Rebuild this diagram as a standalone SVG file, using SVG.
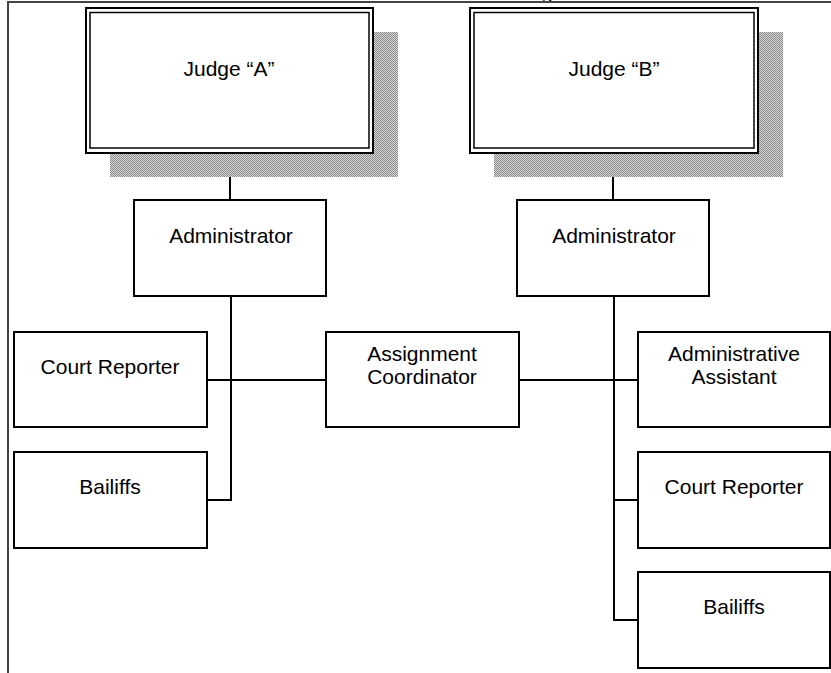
<svg xmlns="http://www.w3.org/2000/svg" width="831" height="673" viewBox="0 0 831 673">
<style>
.box{fill:#fff;stroke:#000;stroke-width:2}
.inner{fill:none;stroke:#000;stroke-width:1.5}
.shadow{fill:url(#dots);stroke:none}
.t{font-family:"Liberation Sans",Arial,sans-serif;font-size:21px;fill:#000;text-anchor:middle}
.c{fill:none;stroke:#000;stroke-width:2}
.frame{fill:none;stroke:#444;stroke-width:2}
</style>
<defs>
<pattern id="dots" width="2" height="2" patternUnits="userSpaceOnUse">
<rect width="2" height="2" fill="#d8d8d8"/>
<rect width="1" height="1" fill="#8a8a8a"/>
<rect x="1" y="1" width="1" height="1" fill="#8a8a8a"/>
</pattern>
</defs>
<rect width="831" height="673" fill="#fff"/>
<text x="547" y="-1" style="font-family:'Liberation Sans',Arial,sans-serif;font-size:21px;text-anchor:middle">g</text>
<path class="frame" d="M8,673 V2 H831"/>
<g id="connectors">
<line class="c" x1="230" y1="153" x2="230" y2="200"/>
<line class="c" x1="613" y1="153" x2="613" y2="200"/>
<path class="c" d="M231,296 V500 H207"/>
<line class="c" x1="207" y1="380" x2="326" y2="380"/>
<line class="c" x1="519" y1="380" x2="638" y2="380"/>
<path class="c" d="M614,296 V620 H638"/>
<line class="c" x1="614" y1="500" x2="638" y2="500"/>
</g>
<g id="judgeA">
<rect class="shadow" x="110" y="32" width="288" height="145"/>
<rect class="box" x="86" y="8" width="287" height="145"/>
<rect class="inner" x="90" y="12.5" width="279" height="135.5"/>
<text class="t" x="229" y="76">Judge “A”</text>
</g>
<g id="judgeB">
<rect class="shadow" x="494" y="32" width="289" height="145"/>
<rect class="box" x="470" y="8" width="288" height="145"/>
<rect class="inner" x="474" y="12.5" width="280" height="135.5"/>
<text class="t" x="614" y="76">Judge “B”</text>
</g>
<g id="adminA">
<rect class="box" x="134" y="200" width="192" height="96"/>
<text class="t" x="231" y="243">Administrator</text>
</g>
<g id="adminB">
<rect class="box" x="517" y="200" width="192" height="96"/>
<text class="t" x="614" y="243">Administrator</text>
</g>
<g id="courtReporterA">
<rect class="box" x="14" y="332" width="193" height="95"/>
<text class="t" x="110" y="374">Court Reporter</text>
</g>
<g id="bailiffsA">
<rect class="box" x="14" y="452" width="193" height="96"/>
<text class="t" x="110" y="494">Bailiffs</text>
</g>
<g id="assignmentCoordinator">
<rect class="box" x="326" y="332" width="193" height="95"/>
<text class="t" x="422" y="361">Assignment</text>
<text class="t" x="422" y="384">Coordinator</text>
</g>
<g id="adminAssistant">
<rect class="box" x="638" y="332" width="192" height="95"/>
<text class="t" x="734" y="361">Administrative</text>
<text class="t" x="734" y="384">Assistant</text>
</g>
<g id="courtReporterB">
<rect class="box" x="638" y="452" width="192" height="96"/>
<text class="t" x="734" y="494">Court Reporter</text>
</g>
<g id="bailiffsB">
<rect class="box" x="638" y="572" width="192" height="96"/>
<text class="t" x="734" y="614">Bailiffs</text>
</g>
</svg>
